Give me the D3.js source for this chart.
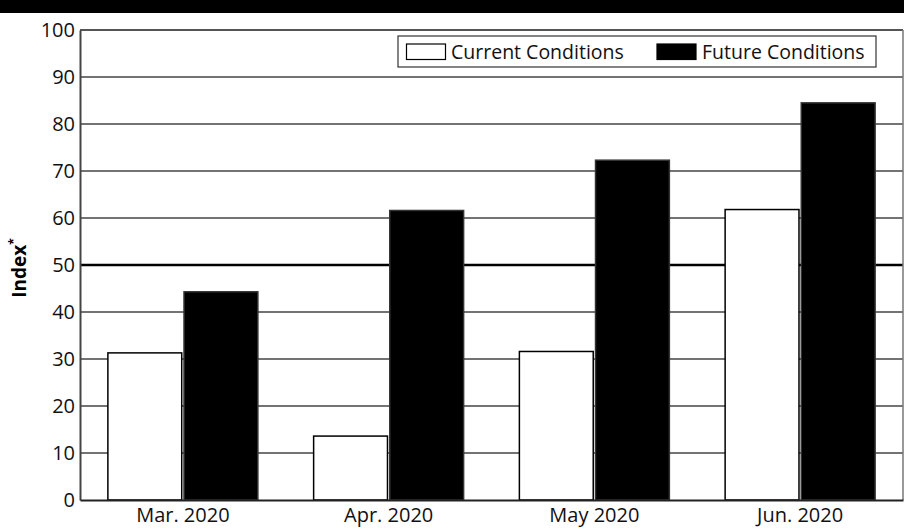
<!DOCTYPE html>
<html>
<head>
<meta charset="utf-8">
<script src="https://cdn.jsdelivr.net/npm/d3@7"></script>
<style>
  html, body { margin: 0; padding: 0; background: #fff; }
  svg { display: block; font-family: "Open Sans", "Liberation Sans", sans-serif; }
</style>
</head>
<body>
<svg id="chart" width="904" height="529"></svg>
<script>
// Monthly index readings
const months = ["Mar. 2020", "Apr. 2020", "May 2020", "Jun. 2020"];
const seriesNames = ["Current Conditions", "Future Conditions"];
const currentValues = [31.3, 13.6, 31.6, 61.8];
const futureValues = [44.3, 61.6, 72.3, 84.5];
const yTicks = [0, 10, 20, 30, 40, 50, 60, 70, 80, 90, 100];

const rows = months.map((m, i) => ({
  month: m,
  values: [
    { key: seriesNames[0], value: currentValues[i] },
    { key: seriesNames[1], value: futureValues[i] }
  ]
}));

const svg = d3.select("#chart");
const plotLeft = 80, plotRight = 903, plotTop = 30, plotBottom = 500;

const x0 = d3.scaleBand().domain(months).range([plotLeft, plotRight])
  .paddingInner(0.271).paddingOuter(0.1355);
const x1 = d3.scaleBand().domain(seriesNames).range([0, x0.bandwidth()]).paddingInner(0.03);
const y = d3.scaleLinear().domain([0, 100]).range([plotBottom, plotTop]);

// Header band
svg.append("rect").attr("x", 0).attr("y", 0).attr("width", 904).attr("height", 13).attr("fill", "#000");

// Horizontal grid lines
svg.append("g").selectAll("line").data(yTicks.filter(t => t > 0)).join("line")
  .attr("x1", plotLeft).attr("x2", plotRight)
  .attr("y1", d => y(d)).attr("y2", d => y(d))
  .attr("stroke", d => d === 50 ? "#000" : "#444")
  .attr("stroke-width", d => d === 50 ? 2.5 : 1.5);

// Bars
const groups = svg.append("g").selectAll("g").data(rows).join("g")
  .attr("transform", d => `translate(${x0(d.month)},0)`);
groups.selectAll("rect").data(d => d.values).join("rect")
  .attr("x", d => x1(d.key))
  .attr("y", d => y(d.value))
  .attr("width", x1.bandwidth())
  .attr("height", d => y(0) - y(d.value))
  .attr("fill", d => d.key === seriesNames[0] ? "#fff" : "#000")
  .attr("stroke", d => d.key === seriesNames[0] ? "#000" : "#333")
  .attr("stroke-width", 1.5);

// Frame: top and right edges
svg.append("line").attr("x1", plotLeft).attr("x2", plotRight).attr("y1", plotTop).attr("y2", plotTop)
  .attr("stroke", "#555").attr("stroke-width", 2);
svg.append("line").attr("x1", plotRight).attr("x2", plotRight).attr("y1", plotTop).attr("y2", plotBottom)
  .attr("stroke", "#777").attr("stroke-width", 1.5);

// Y axis
const yAxis = svg.append("g").attr("transform", `translate(${plotLeft},0)`)
  .call(d3.axisLeft(y).tickValues(yTicks).tickSize(0).tickPadding(5));
yAxis.select(".domain").attr("stroke", "#444").attr("stroke-width", 2);
yAxis.selectAll("text").attr("font-size", 20).attr("fill", "#111")
  .attr("font-family", "'Open Sans', sans-serif");

// X axis
const xAxis = svg.append("g").attr("transform", `translate(0,${plotBottom})`)
  .call(d3.axisBottom(x0).tickSize(0).tickPadding(8));
xAxis.select(".domain").attr("stroke", "#222").attr("stroke-width", 2);
xAxis.selectAll("text").attr("font-size", 20).attr("fill", "#111")
  .attr("font-family", "'Open Sans', sans-serif");

// Y axis title
const yTitle = svg.append("text")
  .attr("transform", "translate(26,268) rotate(-90)")
  .attr("text-anchor", "middle")
  .attr("font-size", 19).attr("font-weight", "bold").attr("fill", "#000");
yTitle.append("tspan").text("Index");
yTitle.append("tspan").attr("font-size", 12).attr("dy", -8).text("*");

// Legend
const legend = svg.append("g");
legend.append("rect").attr("x", 398).attr("y", 36).attr("width", 478).attr("height", 31)
  .attr("fill", "#fff").attr("stroke", "#333").attr("stroke-width", 1.2);
const legendItems = [
  { key: seriesNames[0], sx: 406.5, tx: 451, fill: "#fff" },
  { key: seriesNames[1], sx: 657, tx: 702, fill: "#000" }
];
legendItems.forEach(it => {
  legend.append("rect").attr("x", it.sx).attr("y", 44).attr("width", 39).attr("height", 15.5)
    .attr("fill", it.fill).attr("stroke", "#000").attr("stroke-width", 1.2);
  legend.append("text").attr("x", it.tx).attr("y", 58.5)
    .attr("font-size", 19.5).attr("fill", "#111").text(it.key);
});
</script>
</body>
</html>
